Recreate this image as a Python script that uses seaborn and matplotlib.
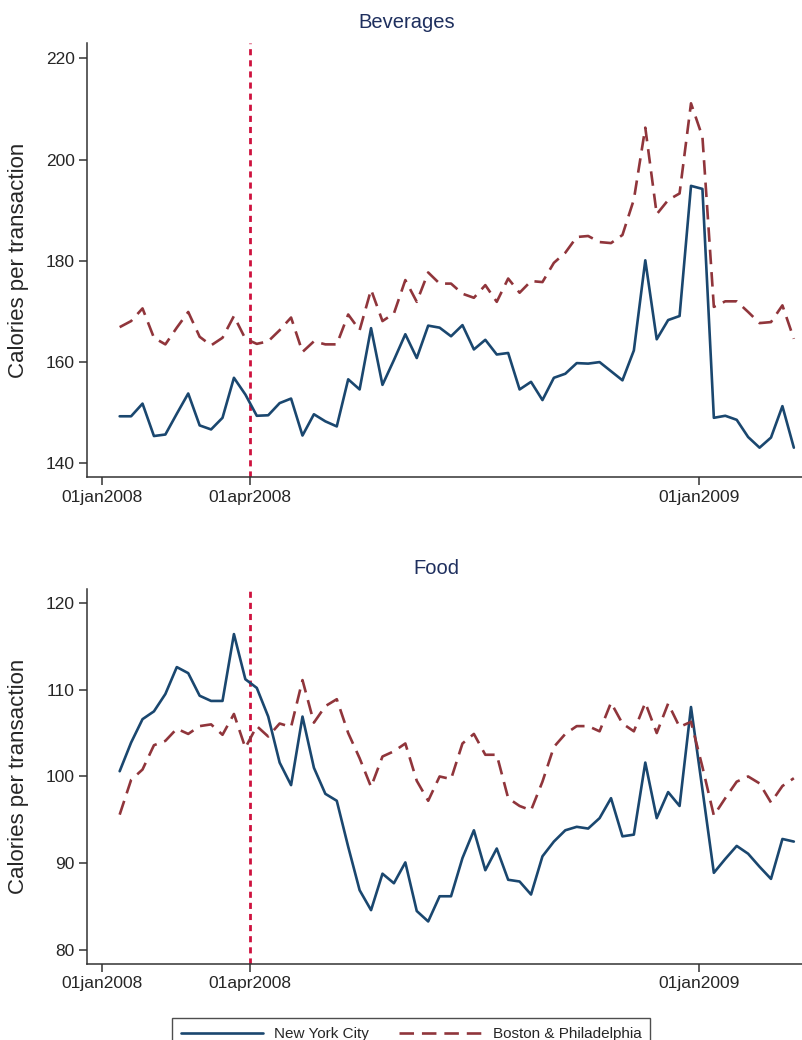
import numpy as np
import pandas as pd
import matplotlib
matplotlib.use("Agg")
import matplotlib.pyplot as plt
import seaborn as sns

# ── Données (lecture du graphique, une valeur par semaine) ───────────────
start_date = "2008-01-12"
n_weeks = 60

bev_nyc = [149.3, 149.3, 151.8, 145.4, 145.7, 149.8, 153.8, 147.5, 146.7, 149.0,
           156.9, 153.6, 149.4, 149.5, 151.9, 152.8, 145.5, 149.7, 148.3, 147.3,
           156.6, 154.6, 166.7, 155.5, 160.4, 165.5, 160.8, 167.2, 166.8, 165.1,
           167.3, 162.5, 164.4, 161.5, 161.8, 154.6, 156.1, 152.5, 156.9, 157.7,
           159.8, 159.7, 160.0, 158.2, 156.4, 162.3, 180.1, 164.5, 168.3, 169.1,
           194.8, 194.2, 149.0, 149.4, 148.6, 145.2, 143.1, 145.1, 151.3, 143.1]
bev_bp = [166.9, 168.1, 170.6, 164.8, 163.5, 166.8, 169.9, 165.0, 163.3, 164.8,
          169.1, 164.6, 163.6, 164.1, 166.3, 168.8, 162.0, 164.1, 163.5, 163.5,
          169.4, 166.3, 174.3, 168.1, 169.6, 176.2, 171.9, 177.7, 175.5, 175.5,
          173.5, 172.7, 175.2, 171.9, 176.5, 173.7, 176.0, 175.8, 179.6, 181.6,
          184.7, 184.9, 183.7, 183.5, 185.1, 192.1, 206.3, 189.2, 192.0, 193.3,
          211.1, 204.5, 170.9, 172.0, 172.0, 169.9, 167.7, 167.9, 171.2, 164.6]

food_nyc = [100.6, 103.9, 106.6, 107.5, 109.5, 112.6, 111.9, 109.3, 108.7, 108.7,
            116.4, 111.2, 110.2, 106.9, 101.6, 99.0, 106.9, 101.0, 98.0, 97.2,
            91.9, 86.9, 84.6, 88.8, 87.7, 90.1, 84.5, 83.3, 86.2, 86.2,
            90.6, 93.8, 89.2, 91.7, 88.1, 87.9, 86.4, 90.8, 92.5, 93.8,
            94.2, 94.0, 95.2, 97.5, 93.1, 93.3, 101.6, 95.2, 98.2, 96.6,
            108.0, 98.5, 88.9, 90.5, 92.0, 91.1, 89.6, 88.2, 92.8, 92.5]
food_bp = [95.6, 99.6, 100.8, 103.6, 104.1, 105.5, 104.9, 105.8, 106.0, 104.8,
           107.2, 103.3, 105.8, 104.6, 106.1, 105.7, 111.1, 106.2, 108.1, 108.9,
           105.0, 102.1, 98.8, 102.3, 102.9, 103.8, 99.5, 97.2, 100.0, 99.7,
           103.8, 104.9, 102.5, 102.5, 97.5, 96.6, 96.1, 99.4, 103.4, 104.9,
           105.8, 105.8, 105.2, 108.5, 106.1, 105.2, 108.5, 105.0, 108.4, 105.7,
           106.3, 101.1, 95.5, 97.5, 99.4, 100.0, 99.2, 97.0, 98.9, 99.8]

regions = ["New York City", "Boston & Philadelphia"]
panel_titles = ["Beverages", "Food"]
event_date = "2008-04-01"
tick_dates = ["2008-01-01", "2008-04-01", "2009-01-01"]
tick_labels = ["01jan2008", "01apr2008", "01jan2009"]
bev_yticks = [140, 160, 180, 200, 220]
food_yticks = [80, 90, 100, 110, 120]

# ── Style ────────────────────────────────────────────────────────────────
sns.set_style("ticks")
plt.rcParams["font.family"] = ["Liberation Sans", "DejaVu Sans"]

NAVY = "#1a476f"
MAROON = "#90353b"
CRANBERRY = "#ce123e"
TITLE_COL = "#1e2f5e"
SPINE = "#333333"

dates = pd.date_range(start_date, periods=n_weeks, freq="7D")


def make_df(nyc, bp):
    return pd.DataFrame({
        "date": np.concatenate([dates, dates]),
        "cal": nyc + bp,
        "region": [regions[0]] * n_weeks + [regions[1]] * n_weeks,
    })


fig = plt.figure(figsize=(8.02, 10.40), dpi=100)
ax_top = fig.add_axes([0.1085, 0.5413, 0.8915, 0.4173])
ax_bot = fig.add_axes([0.1085, 0.0731, 0.8915, 0.3606])

panels = [
    (ax_top, make_df(bev_nyc, bev_bp), bev_yticks, (137.3, 223.0)),
    (ax_bot, make_df(food_nyc, food_bp), food_yticks, (78.4, 121.6)),
]

for ax, df, yticks, ylim in panels:
    sns.lineplot(
        data=df, x="date", y="cal", hue="region", style="region",
        hue_order=regions, style_order=regions,
        palette=[NAVY, MAROON], dashes=[(None, None), (5.5, 3)],
        linewidth=1.9, ax=ax, legend=False,
    )
    ax.axvline(pd.Timestamp(event_date), color=CRANBERRY, lw=2.0,
               dashes=(2.2, 1.8), zorder=0)
    ax.set_xlim(pd.Timestamp("2007-12-23"), pd.Timestamp("2009-03-05"))
    ax.set_ylim(*ylim)
    ax.set_xticks([pd.Timestamp(d) for d in tick_dates])
    ax.set_xticklabels(tick_labels)
    ax.set_yticks(yticks)
    ax.set_xlabel("")
    ax.set_ylabel("Calories per transaction", fontsize=16, va="center")
    ax.yaxis.set_label_coords(-0.0965, 0.5)
    ax.tick_params(axis="both", labelsize=12.5, length=6, width=1.1,
                   color=SPINE, pad=3)
    for side in ["top", "right"]:
        ax.spines[side].set_visible(False)
    for side in ["left", "bottom"]:
        ax.spines[side].set_color(SPINE)
        ax.spines[side].set_linewidth(1.1)

# Titres des panneaux
fig.text(0.5075, 0.9788, panel_titles[0], ha="center", va="center",
         fontsize=14.5, color=TITLE_COL)
fig.text(0.5436, 0.4538, panel_titles[1], ha="center", va="center",
         fontsize=14.5, color=TITLE_COL)

# Légende commune en bas
handles = [
    plt.Line2D([], [], color=NAVY, lw=1.9),
    plt.Line2D([], [], color=MAROON, lw=1.9, dashes=(5.5, 3)),
]
leg = fig.legend(handles, regions, loc="upper center", ncol=2,
                 bbox_to_anchor=(0.5125, 0.0288), fontsize=11,
                 handlelength=5.4, columnspacing=2.0, handletextpad=0.7,
                 frameon=True, fancybox=False, borderpad=0.6)
leg.get_frame().set_edgecolor("#222222")
leg.get_frame().set_linewidth(1.0)

fig.savefig("out.png", dpi=100)
